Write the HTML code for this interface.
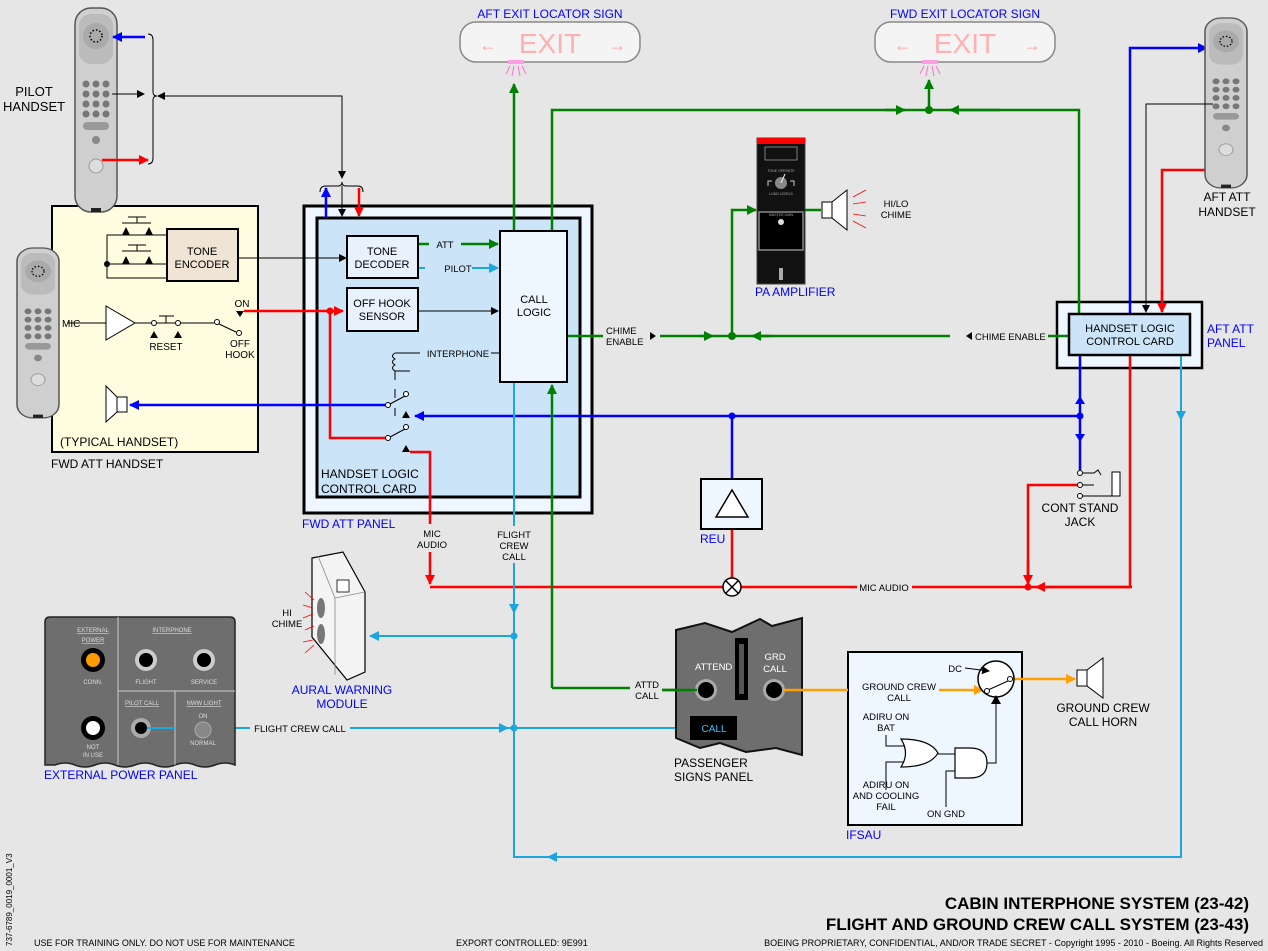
<!DOCTYPE html>
<html><head><meta charset="utf-8"><style>
html,body{margin:0;padding:0;background:#e6e6e6}
svg{display:block;font-family:"Liberation Sans",sans-serif}
</style></head><body>
<svg width="1268" height="951" viewBox="0 0 1268 951" xmlns="http://www.w3.org/2000/svg">
<defs>
<marker id="ak" markerWidth="8" markerHeight="8" refX="7" refY="4" orient="auto" markerUnits="userSpaceOnUse"><path d="M0,0 L8,4 L0,8z" fill="#000"/></marker>
<marker id="ab" markerWidth="10" markerHeight="10" refX="9" refY="5" orient="auto" markerUnits="userSpaceOnUse"><path d="M0,0 L10,5 L0,10z" fill="#0000ff"/></marker>
<marker id="ar" markerWidth="10" markerHeight="10" refX="9" refY="5" orient="auto" markerUnits="userSpaceOnUse"><path d="M0,0 L10,5 L0,10z" fill="#ff0000"/></marker>
<marker id="ag" markerWidth="10" markerHeight="10" refX="9" refY="5" orient="auto" markerUnits="userSpaceOnUse"><path d="M0,0 L10,5 L0,10z" fill="#008000"/></marker>
<marker id="al" markerWidth="10" markerHeight="10" refX="9" refY="5" orient="auto" markerUnits="userSpaceOnUse"><path d="M0,0 L10,5 L0,10z" fill="#1aa7e0"/></marker>
<marker id="ao" markerWidth="10" markerHeight="10" refX="9" refY="5" orient="auto" markerUnits="userSpaceOnUse"><path d="M0,0 L10,5 L0,10z" fill="#ffa000"/></marker>
<g id="hs">
<rect x="0" y="0" width="42" height="204" rx="16" fill="#cfcfcf" stroke="#555" stroke-width="1.5"/>
<rect x="4" y="6" width="34" height="50" rx="12" fill="#bbb"/>
<circle cx="21" cy="28" r="13" fill="#aaa"/>
<circle cx="21" cy="28" r="6" fill="none" stroke="#000" stroke-width="1.5" stroke-dasharray="1.5 2"/>
<g fill="#777"><circle cx="11" cy="76" r="3.5"/><circle cx="21" cy="76" r="3.5"/><circle cx="31" cy="76" r="3.5"/><circle cx="11" cy="86" r="3.5"/><circle cx="21" cy="86" r="3.5"/><circle cx="31" cy="86" r="3.5"/><circle cx="11" cy="96" r="3.5"/><circle cx="21" cy="96" r="3.5"/><circle cx="31" cy="96" r="3.5"/><circle cx="11" cy="106" r="3.5"/><circle cx="21" cy="106" r="3.5"/><circle cx="31" cy="106" r="3.5"/></g>
<rect x="8" y="114" width="26" height="8" rx="4" fill="#999"/>
<circle cx="21" cy="132" r="4" fill="#888"/>
<circle cx="21" cy="158" r="7" fill="#ddd" stroke="#999"/>
<rect x="16" y="200" width="10" height="4" fill="#222"/>
</g>
</defs>

<!-- exit signs -->
<g>
<rect x="460" y="22" width="180" height="40" rx="16" fill="#f4f4f4" stroke="#888" stroke-width="1.5"/>
<text x="550" y="53" font-size="28" fill="#ffb0b0" text-anchor="middle">EXIT</text>
<text x="488" y="51" font-size="18" fill="#ffa0a0" font-weight="bold" text-anchor="middle">←</text>
<text x="617" y="51" font-size="18" fill="#ffa0a0" font-weight="bold" text-anchor="middle">→</text>
<rect x="508" y="60" width="16" height="4" fill="#ff9be0"/>
<path d="M510,66 L506,74 M514,66 L512,76 M518,66 L520,76 M522,66 L526,74" stroke="#ff70d0" stroke-width="1"/>
<text x="550" y="18" font-size="12" fill="#0000ff" text-anchor="middle">AFT EXIT LOCATOR SIGN</text>
</g>
<g>
<rect x="875" y="22" width="180" height="40" rx="16" fill="#f4f4f4" stroke="#888" stroke-width="1.5"/>
<text x="965" y="53" font-size="28" fill="#ffb0b0" text-anchor="middle">EXIT</text>
<text x="903" y="51" font-size="18" fill="#ffa0a0" font-weight="bold" text-anchor="middle">←</text>
<text x="1032" y="51" font-size="18" fill="#ffa0a0" font-weight="bold" text-anchor="middle">→</text>
<rect x="922" y="60" width="16" height="4" fill="#ff9be0"/>
<path d="M924,66 L920,74 M928,66 L926,76 M932,66 L934,76 M936,66 L940,74" stroke="#ff70d0" stroke-width="1"/>
<text x="965" y="18" font-size="12" fill="#0000ff" text-anchor="middle">FWD EXIT LOCATOR SIGN</text>
</g>

<!-- background panels -->
<rect x="52" y="206" width="206" height="246" fill="#fffde0" stroke="#000" stroke-width="2"/>
<rect x="304" y="206" width="288" height="307" fill="#eef6ff" stroke="#000" stroke-width="3"/>
<rect x="317" y="218" width="263" height="279" fill="#cce4f8" stroke="#000" stroke-width="3"/>
<rect x="1057" y="302" width="145" height="66" fill="#eef6ff" stroke="#000" stroke-width="2.5"/>

<!-- pilot handset -->
<use href="#hs" x="75" y="8"/>
<text x="34" y="96" font-size="13" text-anchor="middle">PILOT</text>
<text x="34" y="111" font-size="13" text-anchor="middle">HANDSET</text>
<line x1="145" y1="37" x2="113" y2="37" stroke="#0000ff" stroke-width="2.5" marker-end="url(#ab)"/>
<line x1="102" y1="160" x2="148" y2="160" stroke="#ff0000" stroke-width="2.5" marker-end="url(#ar)"/>
<line x1="112" y1="94" x2="144" y2="94" stroke="#000" stroke-width="1" marker-end="url(#ak)"/>
<path d="M148,34 Q153,34 153,40 L153,92 Q153,96 157,96 Q153,96 153,100 L153,158 Q153,164 148,164" fill="none" stroke="#000" stroke-width="1"/>
<polyline points="285,96 158,96" fill="none" stroke="#000" stroke-width="1" marker-end="url(#ak)"/>
<polyline points="285,96 342,96 342,178" fill="none" stroke="#000" stroke-width="1" marker-end="url(#ak)"/>
<path d="M320,192 Q320,186 326,186 L338,186 Q342,186 342,182 Q342,186 346,186 L358,186 Q363,186 363,192" fill="none" stroke="#000" stroke-width="1"/>
<line x1="326" y1="218" x2="326" y2="188" stroke="#0000ff" stroke-width="2.5" marker-end="url(#ab)"/>
<line x1="342" y1="186" x2="342" y2="216" stroke="#000" stroke-width="1" marker-end="url(#ak)"/>
<line x1="359" y1="188" x2="359" y2="216" stroke="#ff0000" stroke-width="2.5" marker-end="url(#ar)"/>

<!-- fwd att handset box contents -->
<use href="#hs" transform="translate(17,248) scale(1,0.833)"/>
<text x="60" y="446" font-size="12">(TYPICAL HANDSET)</text>
<text x="51" y="468" font-size="12">FWD ATT HANDSET</text>
<g stroke="#000" stroke-width="1" fill="none">
<polyline points="167,235 107,235 107,278 167,278"/>
<polyline points="107,264 167,264"/>
<line x1="122" y1="223" x2="151" y2="223"/><line x1="137" y1="217" x2="137" y2="223"/>
<line x1="128" y1="217" x2="146" y2="217"/>
<line x1="122" y1="251" x2="151" y2="251"/><line x1="137" y1="245" x2="137" y2="251"/>
<line x1="128" y1="245" x2="146" y2="245"/>
<line x1="238" y1="258" x2="346" y2="258" marker-end="url(#ak)"/>
<line x1="68" y1="323" x2="106" y2="323"/>
<line x1="135" y1="323" x2="152" y2="323"/>
<line x1="157" y1="323" x2="175" y2="323"/>
<line x1="159" y1="316" x2="174" y2="316"/><line x1="166" y1="316" x2="166" y2="323"/>
<line x1="180" y1="323" x2="214" y2="323"/>
<line x1="219" y1="324" x2="236" y2="332"/>
</g>
<rect x="167" y="229" width="71" height="52" fill="#f0e4d4" stroke="#000" stroke-width="2"/>
<text x="202" y="255" font-size="11" text-anchor="middle">TONE</text>
<text x="202" y="268" font-size="11" text-anchor="middle">ENCODER</text>
<path d="M126,227 L130,235 L122,235Z M149,227 L153,235 L145,235Z M126,256 L130,264 L122,264Z M149,256 L153,264 L145,264Z" fill="#000"/>
<circle cx="107" cy="264" r="3" fill="#000"/>
<path d="M106,306 L135,323 L106,340Z" fill="#fff" stroke="#000" stroke-width="1"/>
<circle cx="154" cy="323" r="2.5" fill="#fff" stroke="#000"/>
<circle cx="178" cy="323" r="2.5" fill="#fff" stroke="#000"/>
<circle cx="217" cy="322" r="2.5" fill="#fff" stroke="#000"/>
<circle cx="239" cy="333" r="2.5" fill="#fff" stroke="#000"/>
<path d="M154,331 L158,338 L150,338Z M178,331 L182,338 L174,338Z M236,311 L244,311 L240,317Z" fill="#000"/>
<text x="62" y="327" font-size="10">MIC</text>
<text x="166" y="350" font-size="10" text-anchor="middle">RESET</text>
<text x="242" y="307" font-size="10" text-anchor="middle">ON</text>
<text x="240" y="347" font-size="10" text-anchor="middle">OFF</text>
<text x="240" y="358" font-size="10" text-anchor="middle">HOOK</text>
<path d="M106,386 L117,397 L117,412 L106,422Z" fill="#fff" stroke="#000"/>
<rect x="117" y="397" width="10" height="15" fill="#fff" stroke="#000"/>

<!-- FWD ATT panel labels -->
<text x="302" y="528" font-size="12" fill="#0000ff">FWD ATT PANEL</text>
<text x="321" y="478" font-size="12">HANDSET LOGIC</text>
<text x="321" y="493" font-size="12">CONTROL CARD</text>

<!-- red lines -->
<g fill="none" stroke="#ff0000" stroke-width="2.5">
<line x1="244" y1="311" x2="343" y2="311" marker-end="url(#ar)"/>
<polyline points="330,311 330,438 386,438"/>
<polyline points="410,452 430,452 430,524"/>
<line x1="430" y1="552" x2="430" y2="584" marker-end="url(#ar)"/>
<polyline points="430,587 723,587"/>
<polyline points="741,587 857,587"/>
<polyline points="912,587 1130,587 1130,355"/>
<line x1="1132" y1="587" x2="1036" y2="587" marker-end="url(#ar)"/>
<polyline points="1078,485 1028,485 1028,584"/>
<line x1="1028" y1="560" x2="1028" y2="584" marker-end="url(#ar)"/>
<line x1="732" y1="529" x2="732" y2="578"/>
<polyline points="1224,170 1162,170 1162,312"/>
<line x1="1162" y1="290" x2="1162" y2="312" marker-end="url(#ar)"/>
</g>
<circle cx="330" cy="311" r="3.5" fill="#ff0000"/>
<circle cx="1028" cy="587" r="3.5" fill="#ff0000"/>
<text x="432" y="537" font-size="9.5" text-anchor="middle">MIC</text>
<text x="432" y="548" font-size="9.5" text-anchor="middle">AUDIO</text>
<text x="884" y="591" font-size="9.5" text-anchor="middle">MIC AUDIO</text>
<circle cx="732" cy="587" r="9" fill="#fff" stroke="#000" stroke-width="1.5"/>
<path d="M726,581 L738,593 M738,581 L726,593" stroke="#000" stroke-width="1.5"/>

<!-- blue lines -->
<g fill="none" stroke="#0000ff" stroke-width="2.5">
<line x1="386" y1="405" x2="130" y2="405" marker-end="url(#ab)"/>
<line x1="1080" y1="416" x2="415" y2="416" marker-end="url(#ab)"/>
<line x1="732" y1="416" x2="732" y2="494"/>
<line x1="1080" y1="355" x2="1080" y2="470"/>
<polyline points="1130,314 1130,48 1207,48" marker-end="url(#ab)"/>
</g>
<path d="M1075,404 L1080,396 L1085,404Z M1075,434 L1080,442 L1085,434Z" fill="#0000ff"/>
<circle cx="732" cy="416" r="3.5" fill="#0000ff"/>
<circle cx="1080" cy="416" r="3.5" fill="#0000ff"/>

<!-- green lines -->
<g fill="none" stroke="#008000" stroke-width="2.5">
<line x1="514" y1="231" x2="514" y2="84" marker-end="url(#ag)"/>
<polyline points="552,231 552,110 1079,110 1079,314"/>
<line x1="929" y1="110" x2="929" y2="80" marker-end="url(#ag)"/>
<line x1="885" y1="110" x2="905" y2="110" marker-end="url(#ag)"/>
<line x1="1000" y1="110" x2="950" y2="110" marker-end="url(#ag)"/>
<line x1="567" y1="336" x2="603" y2="336"/>
<polyline points="660,336 950,336"/>
<line x1="1048" y1="336" x2="1069" y2="336"/>
<line x1="700" y1="336" x2="713" y2="336" marker-end="url(#ag)"/>
<line x1="770" y1="336" x2="752" y2="336" marker-end="url(#ag)"/>
<polyline points="732,336 732,210 756,210" marker-end="url(#ag)"/>
<line x1="552" y1="688" x2="552" y2="385" marker-end="url(#ag)"/>
<polyline points="552,688 630,688"/>
<line x1="662" y1="690" x2="700" y2="690"/>
<line x1="805" y1="210" x2="821" y2="210"/>
<line x1="418" y1="244" x2="429" y2="244"/>
<line x1="461" y1="244" x2="498" y2="244" marker-end="url(#ag)"/>
</g>
<circle cx="929" cy="110" r="4" fill="#008000"/>
<circle cx="732" cy="336" r="4" fill="#008000"/>
<text x="606" y="334" font-size="9.5">CHIME</text>
<text x="606" y="345" font-size="9.5">ENABLE</text>
<path d="M650,332 L656,336 L650,340Z M972,332 L966,336 L972,340Z" fill="#000"/>
<text x="975" y="340" font-size="9.5">CHIME ENABLE</text>
<text x="647" y="688" font-size="9.5" text-anchor="middle">ATTD</text>
<text x="647" y="699" font-size="9.5" text-anchor="middle">CALL</text>

<!-- light blue -->
<g fill="none" stroke="#1aa7e0" stroke-width="2">
<line x1="514" y1="382" x2="514" y2="526"/>
<polyline points="514,563 514,857 1181,857 1181,355"/>
<line x1="514" y1="580" x2="514" y2="613" marker-end="url(#al)"/>
<line x1="1181" y1="390" x2="1181" y2="420" marker-end="url(#al)"/>
<line x1="600" y1="857" x2="548" y2="857" marker-end="url(#al)"/>
<line x1="514" y1="636" x2="370" y2="636" marker-end="url(#al)"/>
<line x1="143" y1="728" x2="250" y2="728"/>
<line x1="350" y1="728" x2="514" y2="728"/>
<line x1="480" y1="728" x2="508" y2="728" marker-end="url(#al)"/>
<line x1="514" y1="728" x2="688" y2="728" marker-end="url(#al)"/>
<line x1="418" y1="268" x2="425" y2="268"/>
<line x1="472" y1="268" x2="498" y2="268" marker-end="url(#al)"/>
</g>
<circle cx="514" cy="636" r="3.5" fill="#1aa7e0"/>
<circle cx="514" cy="728" r="3.5" fill="#1aa7e0"/>
<text x="514" y="538" font-size="9.5" text-anchor="middle">FLIGHT</text>
<text x="514" y="549" font-size="9.5" text-anchor="middle">CREW</text>
<text x="514" y="560" font-size="9.5" text-anchor="middle">CALL</text>
<text x="300" y="732" font-size="9.5" text-anchor="middle">FLIGHT CREW CALL</text>

<!-- FWD panel inner boxes -->
<rect x="347" y="236" width="71" height="42" fill="#e8f2fc" stroke="#000" stroke-width="2"/>
<text x="382" y="255" font-size="11" text-anchor="middle">TONE</text>
<text x="382" y="268" font-size="11" text-anchor="middle">DECODER</text>
<rect x="347" y="288" width="71" height="43" fill="#e8f2fc" stroke="#000" stroke-width="2"/>
<text x="382" y="307" font-size="11" text-anchor="middle">OFF HOOK</text>
<text x="382" y="320" font-size="11" text-anchor="middle">SENSOR</text>
<rect x="500" y="231" width="67" height="151" fill="#eef6ff" stroke="#000" stroke-width="2"/>
<text x="534" y="303" font-size="11" text-anchor="middle">CALL</text>
<text x="534" y="316" font-size="11" text-anchor="middle">LOGIC</text>
<text x="445" y="248" font-size="9.5" text-anchor="middle">ATT</text>
<text x="458" y="272" font-size="9.5" text-anchor="middle">PILOT</text>
<line x1="418" y1="311" x2="498" y2="311" stroke="#000" stroke-width="1" marker-end="url(#ak)"/>
<text x="458" y="357" font-size="9.5" text-anchor="middle">INTERPHONE</text>
<path d="M401,353 L420,353 M491,353 L500,353" stroke="#000"/>
<path d="M401,353 L395,353 Q390,356 395,359 Q390,362 395,365 Q390,368 395,371 L410,371 M395,371 L395,380 M395,389 L395,398 M395,408 L395,416" stroke="#000" fill="none"/>
<circle cx="388" cy="405" r="2.5" fill="#fff" stroke="#000"/>
<circle cx="406" cy="394" r="2.5" fill="#fff" stroke="#000"/>
<line x1="390" y1="404" x2="405" y2="396" stroke="#000"/>
<circle cx="388" cy="438" r="2.5" fill="#fff" stroke="#000"/>
<circle cx="406" cy="427" r="2.5" fill="#fff" stroke="#000"/>
<line x1="390" y1="437" x2="405" y2="429" stroke="#000"/>
<path d="M402,418 L406,411 L410,418Z M402,452 L406,445 L410,452Z" fill="#000"/>

<!-- REU -->
<rect x="701" y="479" width="61" height="50" fill="#eef6ff" stroke="#000" stroke-width="2"/>
<path d="M732,490 L748,517 L716,517Z" fill="#fff" stroke="#000" stroke-width="1.5"/>
<text x="700" y="543" font-size="12" fill="#0000ff">REU</text>
<!-- cont stand jack -->
<circle cx="1080" cy="473" r="2.5" fill="#fff" stroke="#000"/>
<circle cx="1080" cy="485" r="2.5" fill="#fff" stroke="#000"/>
<circle cx="1080" cy="496" r="2.5" fill="#fff" stroke="#000"/>
<path d="M1083,473 L1094,473 L1098,470 L1101,475 M1083,496 L1112,496 M1083,485 L1094,485" stroke="#000" fill="none"/>
<rect x="1112" y="472" width="8" height="24" fill="#fff" stroke="#000"/>
<text x="1080" y="512" font-size="12" text-anchor="middle">CONT STAND</text>
<text x="1080" y="526" font-size="12" text-anchor="middle">JACK</text>

<!-- PA amp -->
<rect x="757" y="138" width="48" height="146" fill="#111" stroke="#444"/>
<rect x="757" y="138" width="48" height="6" fill="#ff0000"/>
<rect x="765" y="147" width="32" height="13" fill="none" stroke="#999" stroke-width="0.8"/>
<path d="M768,186 L768,181 L772,181 M794,186 L794,181 L790,181" stroke="#ccc" fill="none"/>
<circle cx="781" cy="183" r="6" fill="#888"/>
<line x1="781" y1="183" x2="785" y2="174" stroke="#eee"/>
<rect x="759" y="212" width="44" height="38" fill="#000" stroke="#888" stroke-width="1.5"/>
<circle cx="781" cy="222" r="3" fill="#ddd"/>
<text x="781" y="172" font-size="3.5" fill="#aaa" text-anchor="middle">TONE OPERATE</text>
<text x="781" y="195" font-size="3.5" fill="#aaa" text-anchor="middle">LOAD LEVELS</text>
<text x="781" y="216" font-size="3.5" fill="#aaa" text-anchor="middle">MASTER GAIN</text>
<rect x="779" y="268" width="4" height="12" fill="#aaa"/>
<text x="755" y="296" font-size="12" fill="#0000ff">PA AMPLIFIER</text>
<rect x="822" y="202" width="10" height="16" fill="#fff" stroke="#000"/>
<path d="M832,202 L847,190 L847,230 L832,218Z" fill="#fff" stroke="#000"/>
<path d="M853,197 L866,190 M853,204 L866,202 M853,214 L866,216 M853,221 L866,228" stroke="#ff0000" stroke-width="0.8"/>
<text x="896" y="207" font-size="9.5" text-anchor="middle">HI/LO</text>
<text x="896" y="218" font-size="9.5" text-anchor="middle">CHIME</text>

<!-- aft att -->
<use href="#hs" transform="translate(1205,18) scale(1,0.833)"/>
<text x="1227" y="201" font-size="12" text-anchor="middle">AFT ATT</text>
<text x="1227" y="216" font-size="12" text-anchor="middle">HANDSET</text>
<polyline points="1213,104 1146,104 1146,312" fill="none" stroke="#000" stroke-width="1" marker-end="url(#ak)"/>
<rect x="1069" y="314" width="121" height="41" fill="#cce4f8" stroke="#000" stroke-width="2.5"/>
<text x="1130" y="332" font-size="11" text-anchor="middle">HANDSET LOGIC</text>
<text x="1130" y="345" font-size="11" text-anchor="middle">CONTROL CARD</text>
<text x="1207" y="333" font-size="12" fill="#0000ff">AFT ATT</text>
<text x="1207" y="347" font-size="12" fill="#0000ff">PANEL</text>

<!-- aural warning -->
<path d="M312,558 L343,552 L365,592 L365,672 L347,680 L312,637 Z" fill="#f4f4f4" stroke="#000" stroke-width="1.2"/>
<path d="M318,556 L335,598 L335,675 M335,598 L365,592" fill="none" stroke="#888" stroke-width="0.8"/>
<ellipse cx="321" cy="608" rx="4" ry="10" fill="#777"/>
<ellipse cx="321" cy="634" rx="4" ry="10" fill="#777"/>
<rect x="337" y="580" width="12" height="12" fill="#fff" stroke="#000" stroke-width="0.8"/>
<path d="M305,592 L314,600 M303,605 L313,608 M303,618 L313,614 M305,630 L314,626 M303,642 L313,640 M305,653 L314,645" stroke="#ff0000" stroke-width="0.8"/>
<text x="287" y="616" font-size="9.5" text-anchor="middle">HI</text>
<text x="287" y="627" font-size="9.5" text-anchor="middle">CHIME</text>
<text x="342" y="694" font-size="12" fill="#0000ff" text-anchor="middle">AURAL WARNING</text>
<text x="342" y="708" font-size="12" fill="#0000ff" text-anchor="middle">MODULE</text>

<!-- external power panel -->
<path d="M45,622 Q45,617 50,617 L230,617 Q235,617 235,622 L235,765 Q225,761 215,765 T195,765 T175,765 T155,765 T135,765 T115,765 T95,765 T75,765 T55,765 L45,765 Z" fill="#6e6e6e" stroke="#222" stroke-width="1.5"/>
<path d="M118,617 L118,765 M118,691 L235,691 M175,691 L175,765" stroke="#ccc" stroke-width="1"/>
<g font-size="6" fill="#ddd" text-anchor="middle">
<text x="93" y="632" text-decoration="underline">EXTERNAL</text>
<text x="93" y="642" text-decoration="underline">POWER</text>
<text x="172" y="632" text-decoration="underline">INTERPHONE</text>
<text x="93" y="684">CONN.</text>
<text x="146" y="684">FLIGHT</text>
<text x="204" y="684">SERVICE</text>
<text x="142" y="705" text-decoration="underline">PILOT CALL</text>
<text x="204" y="705" text-decoration="underline">NWW LIGHT</text>
<text x="203" y="718">ON</text>
<text x="203" y="745">NORMAL</text>
<text x="93" y="749">NOT</text>
<text x="93" y="757">IN USE</text>
</g>
<circle cx="93" cy="660" r="12" fill="#000"/><circle cx="93" cy="660" r="7" fill="#ff9a00"/>
<circle cx="93" cy="728" r="12" fill="#000"/><circle cx="93" cy="728" r="7" fill="#fff"/>
<circle cx="146" cy="660" r="11" fill="#ccc"/><circle cx="146" cy="660" r="7" fill="#000"/>
<circle cx="204" cy="660" r="11" fill="#ccc"/><circle cx="204" cy="660" r="7" fill="#000"/>
<circle cx="141" cy="728" r="10" fill="#aaa"/><circle cx="141" cy="728" r="6" fill="#000"/>
<line x1="147" y1="728" x2="175" y2="728" stroke="#1aa7e0" stroke-width="2"/>
<circle cx="203" cy="730" r="8" fill="#888" stroke="#aaa"/>
<text x="44" y="779" font-size="12" fill="#0000ff">EXTERNAL POWER PANEL</text>

<!-- passenger signs panel -->
<path d="M676,630 L705,623 L732,632 L760,619 L772,626 L802,618 L802,755 L776,748 L746,752 L720,743 L700,748 L676,738 Z" fill="#6e6e6e" stroke="#111" stroke-width="2"/>
<rect x="735" y="638" width="13" height="62" fill="#000"/>
<rect x="739" y="644" width="5" height="50" fill="#555"/>
<text x="695" y="670" font-size="9.5" fill="#fff">ATTEND</text>
<text x="775" y="660" font-size="9.5" fill="#fff" text-anchor="middle">GRD</text>
<text x="775" y="672" font-size="9.5" fill="#fff" text-anchor="middle">CALL</text>
<circle cx="706" cy="690" r="11" fill="#aaa"/><circle cx="706" cy="690" r="8" fill="#000"/>
<circle cx="774" cy="690" r="11" fill="#aaa"/><circle cx="774" cy="690" r="8" fill="#000"/>
<rect x="690" y="716" width="47" height="24" fill="#000"/>
<text x="714" y="732" font-size="10" fill="#2ec4ff" text-anchor="middle">CALL</text>
<text x="674" y="767" font-size="12">PASSENGER</text>
<text x="674" y="781" font-size="12">SIGNS PANEL</text>
<line x1="662" y1="690" x2="697" y2="690" stroke="#008000" stroke-width="2.5"/>

<!-- IFSAU -->
<rect x="848" y="652" width="174" height="173" fill="#eef6ff" stroke="#000" stroke-width="2"/>
<text x="846" y="839" font-size="12" fill="#0000ff">IFSAU</text>
<g fill="none" stroke="#ffa000" stroke-width="2.5">
<line x1="784" y1="690" x2="848" y2="690"/>
<line x1="939" y1="690" x2="983" y2="690" marker-end="url(#ao)"/>
<line x1="1012" y1="679" x2="1075" y2="679" marker-end="url(#ao)"/>
</g>
<text x="899" y="690" font-size="9.5" text-anchor="middle">GROUND CREW</text>
<text x="899" y="701" font-size="9.5" text-anchor="middle">CALL</text>
<circle cx="996" cy="679" r="18" fill="#fff" stroke="#000" stroke-width="1.5"/>
<line x1="988" y1="690" x2="1008" y2="681" stroke="#000"/>
<circle cx="987" cy="691" r="2.5" fill="#fff" stroke="#000"/>
<circle cx="1010" cy="679" r="2.5" fill="#fff" stroke="#000"/>
<line x1="965" y1="668" x2="989" y2="671" stroke="#000" marker-end="url(#ak)"/>
<text x="962" y="672" font-size="9.5" text-anchor="end">DC</text>
<g fill="none" stroke="#000" stroke-width="1">
<polyline points="886,735 886,746 904,746"/>
<polyline points="886,790 886,762 904,762"/>
<polyline points="938,754 956,754"/>
<polyline points="946,807 946,771 956,771"/>
<polyline points="986,763 996,763 996,704"/>
</g>
<path d="M991,704 L996,695 L1001,704Z" fill="#000"/>
<path d="M901,739 Q930,739 938,753 Q930,767 901,767 Q910,753 901,739Z" fill="#fff" stroke="#000" stroke-width="1.2"/>
<path d="M955,748 L970,748 Q987,748 987,763 Q987,778 970,778 L955,778Z" fill="#fff" stroke="#000" stroke-width="1.2"/>
<text x="886" y="720" font-size="9.5" text-anchor="middle">ADIRU ON</text>
<text x="886" y="731" font-size="9.5" text-anchor="middle">BAT</text>
<text x="886" y="788" font-size="9.5" text-anchor="middle">ADIRU ON</text>
<text x="886" y="799" font-size="9.5" text-anchor="middle">AND COOLING</text>
<text x="886" y="810" font-size="9.5" text-anchor="middle">FAIL</text>
<text x="946" y="817" font-size="9.5" text-anchor="middle">ON GND</text>
<rect x="1077" y="670" width="10" height="16" fill="#fff" stroke="#000"/>
<path d="M1087,670 L1103,658 L1103,698 L1087,686Z" fill="#fff" stroke="#000"/>
<text x="1103" y="712" font-size="12" text-anchor="middle">GROUND CREW</text>
<text x="1103" y="726" font-size="12" text-anchor="middle">CALL HORN</text>

<!-- footer -->
<text x="1249" y="909" font-size="17" font-weight="bold" text-anchor="end">CABIN INTERPHONE SYSTEM (23-42)</text>
<text x="1249" y="930" font-size="17" font-weight="bold" text-anchor="end">FLIGHT AND GROUND CREW CALL SYSTEM (23-43)</text>
<text x="1263" y="946" font-size="9" text-anchor="end">BOEING PROPRIETARY, CONFIDENTIAL, AND/OR TRADE SECRET - Copyright 1995 - 2010 - Boeing. All Rights Reserved</text>
<text x="34" y="946" font-size="9">USE FOR TRAINING ONLY. DO NOT USE FOR MAINTENANCE</text>
<text x="456" y="946" font-size="9">EXPORT CONTROLLED: 9E991</text>
<text x="12" y="946" font-size="8" transform="rotate(-90 12 946)">737-6789_0019_0001_V3</text>
</svg>
</body></html>
